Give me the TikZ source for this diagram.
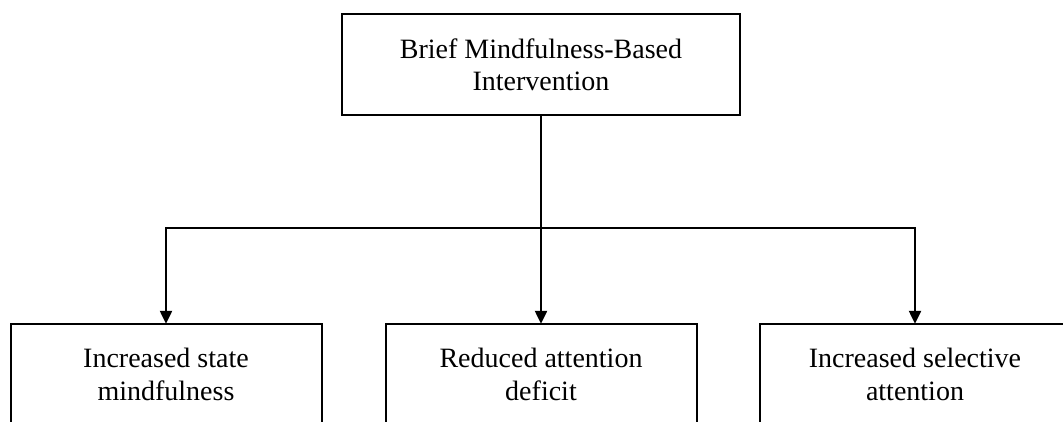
\documentclass[tikz,border=0pt]{standalone}
\usepackage{fontspec}
\setmainfont{Liberation Serif}
\usetikzlibrary{arrows.meta}
\tikzset{
  boxnode/.style={draw, line width=2pt, rectangle, align=center, inner sep=0pt,
    minimum width=311pt, minimum height=100pt, font=\fontsize{28}{33}\selectfont},
  conn/.style={line width=2pt},
  arr/.style={line width=2.3pt, -{Triangle[length=13pt,width=12pt]}, shorten >=-0.5pt}
}
\begin{document}
\begin{tikzpicture}[x=1pt,y=-1pt]
\fill[white] (0,0) rectangle (1063,421);
\useasboundingbox (0,0) rectangle (1063,421);
\clip (0,0) rectangle (1063,421);
\node[boxnode, minimum width=397.5pt, minimum height=100.7pt, font=\fontsize{28}{32.4}\selectfont] (top) at (541,64.65) {Brief Mindfulness-Based\\Intervention};
\node[boxnode] (left) at (166,374.3) {Increased state\\mindfulness};
\node[boxnode] (mid) at (541,374.3) {Reduced attention\\deficit};
\node[boxnode] (right) at (915,374.3) {Increased selective\\attention};
\coordinate (bus) at (0,227.5);
\draw[conn] (top.south) -- (top.south |- bus);
\draw[conn, line cap=rect] (left.north |- bus) -- (right.north |- bus);
\draw[arr] (left.north |- bus) -- (left.north);
\draw[arr] (mid.north |- bus) -- (mid.north);
\draw[arr] (right.north |- bus) -- (right.north);
\end{tikzpicture}
\end{document}
